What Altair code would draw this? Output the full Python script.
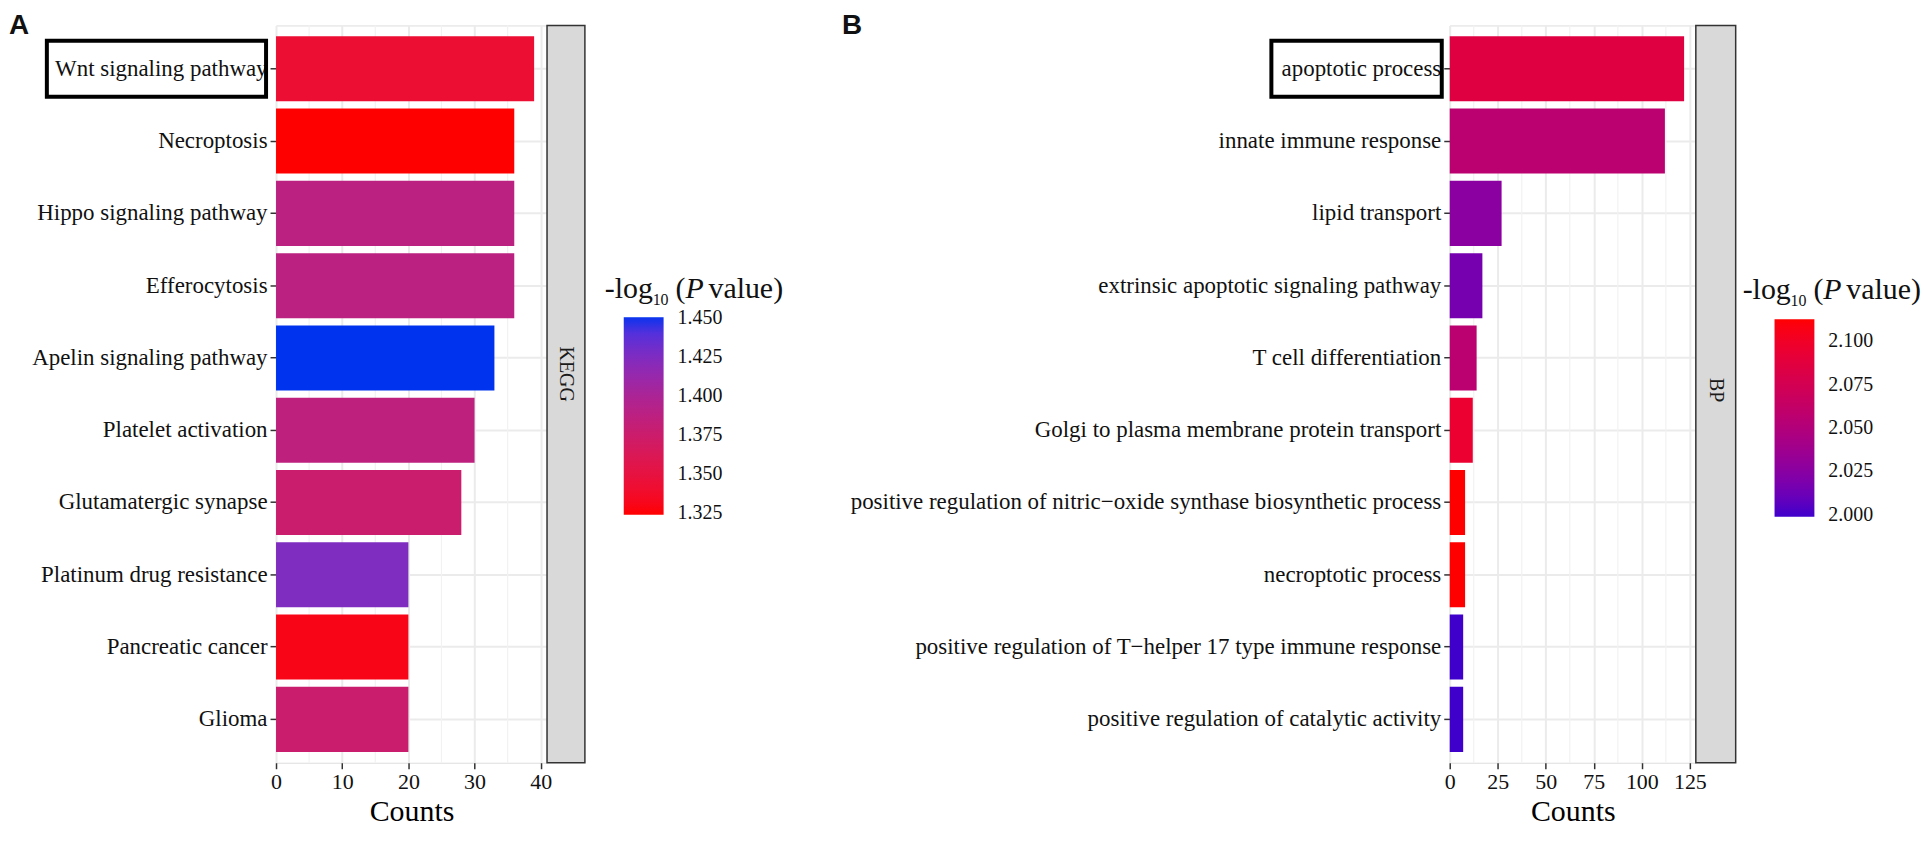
import altair as alt
import pandas as pd

# ---------------- data ----------------
terms_a = ["Wnt signaling pathway", "Necroptosis", "Hippo signaling pathway",
           "Efferocytosis", "Apelin signaling pathway", "Platelet activation",
           "Glutamatergic synapse", "Platinum drug resistance",
           "Pancreatic cancer", "Glioma"]
counts_a = [39, 36, 36, 36, 33, 30, 28, 20, 20, 20]
logp_a = [1.343, 1.3237, 1.388, 1.388, 1.4506, 1.386, 1.376, 1.425, 1.330, 1.376]

terms_b = ["apoptotic process", "innate immune response", "lipid transport",
           "extrinsic apoptotic signaling pathway", "T cell differentiation",
           "Golgi to plasma membrane protein transport",
           "positive regulation of nitric\u2212oxide synthase biosynthetic process",
           "necroptotic process",
           "positive regulation of T\u2212helper 17 type immune response",
           "positive regulation of catalytic activity"]
counts_b = [122, 112, 27, 17, 14, 12, 8, 8, 7, 7]
logp_b = [2.085, 2.056, 2.026, 2.016, 2.056, 2.095, 2.1126, 2.1126, 1.9989, 1.9989]

ticks_a = [0, 10, 20, 30, 40]
minor_a = [5, 15, 25, 35]
legend_vals_a = [1.325, 1.350, 1.375, 1.400, 1.425, 1.450]

ticks_b = [0, 25, 50, 75, 100, 125]
minor_b = [12.5, 37.5, 62.5, 87.5, 112.5]
legend_vals_b = [2.000, 2.025, 2.050, 2.075, 2.100]

strip_a = "KEGG"
strip_b = "BP"
letter_a = "A"
letter_b = "B"
title_parts = ["-log", "10", "(", "P", "value)"]
x_title = "Counts"

SERIF = "Liberation Serif"
H = 740


def panel(key, terms, counts, logp, ticks, minor, legend_vals, lo_col, hi_col,
          strip, letter, width, strip_w, strip_ty, box_x, box_x2, letter_x,
          leg_x, leg_y, tx, ty):
    df = pd.DataFrame({"term_" + key: terms, "count_" + key: counts,
                       "logp_" + key: logp})
    xmax = max(counts) * 1.05
    yenc = alt.Y("term_%s:N" % key, sort=terms,
                 scale=alt.Scale(domain=terms, paddingInner=0.1, paddingOuter=0.15),
                 axis=alt.Axis(title=None, labelFontSize=23, labelFont=SERIF,
                               labelColor="#111111", labelLimit=1000,
                               tickColor="#333333", tickSize=6, tickWidth=1.5,
                               labelPadding=3, domain=False, grid=True,
                               gridColor="#EBEBEB", gridWidth=2))
    xscale = alt.Scale(domain=[0, xmax], nice=False, zero=True)
    xaxis = alt.Axis(values=ticks, title=x_title, labelFontSize=22,
                     labelFont=SERIF, labelColor="#111111",
                     titleFont=SERIF, titleFontSize=30,
                     titleFontWeight="normal", titleColor="#000000",
                     titlePadding=4, tickColor="#333333", tickSize=6,
                     tickWidth=1.5, labelPadding=3, domain=False,
                     grid=True, gridColor="#EBEBEB", gridWidth=2,
                     labelFlush=False)
    xenc = alt.X("count_%s:Q" % key, scale=xscale, axis=xaxis)

    grid_minor = alt.Chart(pd.DataFrame({"count_" + key: minor})).mark_rule(
        color="#F2F2F2", strokeWidth=1.2).encode(x=xenc)

    bars = alt.Chart(df).mark_bar().encode(
        y=yenc, x=xenc,
        color=alt.Color("logp_%s:Q" % key,
                        scale=alt.Scale(domain=[min(logp), max(logp)],
                                        range=[lo_col, hi_col], interpolate="lab"),
                        legend=alt.Legend(orient="none", legendX=leg_x, legendY=leg_y,
                                          values=legend_vals, format=".3f",
                                          gradientLength=198, gradientThickness=40,
                                          gradientStrokeWidth=0,
                                          labelFontSize=20, labelFont=SERIF,
                                          labelColor="#111111", labelOffset=14,
                                          title=None)))

    box = alt.Chart(pd.DataFrame({"term_" + key: [terms[0]]})).mark_bar(
        fillOpacity=0, stroke="#000000", strokeWidth=4,
        height=alt.RelativeBandSize(0.86)).encode(
        y=yenc, x=alt.value(box_x), x2=alt.value(box_x2))

    sdf = pd.DataFrame({"s": [strip]})
    strip_rect = alt.Chart(sdf).mark_rect(
        fill="#D9D9D9", stroke="#333333", strokeWidth=1.5).encode(
        x=alt.value(width), x2=alt.value(width + strip_w),
        y=alt.value(0), y2=alt.value(H))
    strip_text = alt.Chart(sdf).mark_text(
        font=SERIF, fontSize=20, angle=90, color="#1A1A1A",
        align="center", baseline="middle").encode(
        text="s:N", x=alt.value(width + strip_w / 2), y=alt.value(strip_ty))

    lab = alt.Chart(pd.DataFrame({"l": [letter]})).mark_text(
        font="Liberation Sans", fontWeight="bold", fontSize=28, align="left",
        baseline="alphabetic", color="#111111").encode(
        text="l:N", x=alt.value(letter_x), y=alt.value(9))

    tparts = []
    offs = [0, 48, 71, 81, 104]
    sizes = [30, 16, 30, 30, 30]
    dys = [0, 7, 0, 0, 0]
    styles = ["normal", "normal", "normal", "italic", "normal"]
    for t, o, s, d, st in zip(title_parts, offs, sizes, dys, styles):
        tparts.append(alt.Chart(pd.DataFrame({"t": [t]})).mark_text(
            font=SERIF, fontSize=s, fontStyle=st, align="left",
            baseline="alphabetic", color="#111111").encode(
            text="t:N", x=alt.value(tx + o), y=alt.value(ty + d)))

    return alt.layer(grid_minor, bars, box, strip_rect, strip_text, lab, *tparts
                     ).properties(width=width, height=H)


pa = panel("a", terms_a, counts_a, logp_a, ticks_a, minor_a, legend_vals_a,
           "#FF0000", "#0033EE", strip_a, letter_a, 272, 38, 350,
           -230, -10, -268, 349, 293, 330, 274)
pb = panel("b", terms_b, counts_b, logp_b, ticks_b, minor_b, legend_vals_b,
           "#3F00CC", "#FF0000", strip_b, letter_b, 247, 40, 366,
           -179, -8, -610, 326, 295, 294, 275)

chart = alt.hconcat(pa, pb, spacing=906, bounds="flush").resolve_scale(
    color="independent", x="independent", y="independent"
).resolve_legend(color="independent").properties(
    padding={"left": 0, "top": 2, "right": 0, "bottom": 0}
).configure_view(stroke="#333333", strokeWidth=2
).configure(font=SERIF, background="white")

chart.save("out.html", embed_options={"renderer": "svg", "actions": False})
